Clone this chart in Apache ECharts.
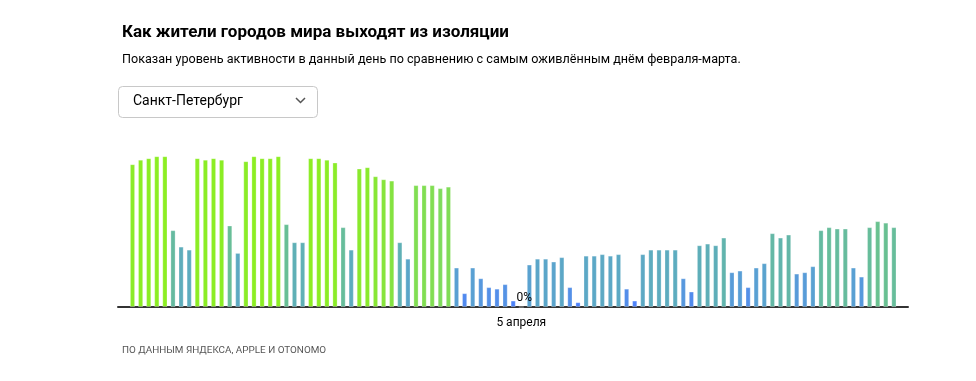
<!DOCTYPE html>
<html><head><meta charset="utf-8">
<script src="https://cdn.jsdelivr.net/npm/echarts@6/dist/echarts.min.js"></script>
<style>html,body{margin:0;padding:0;background:#fff}#c{width:976px;height:381px}</style>
</head><body><div id="c"></div>
<script>
// Активность (% от самого оживлённого дня февраля-марта), 17 февраля – 21 мая 2020
var startDate = [2020, 1, 17];
var monthNames = ['января','февраля','марта','апреля','мая','июня'];
var values = [
  94.7, 97.7, 98.7, 100, 100, 50.9, 40, 38,
  98.7, 97.7, 98.7, 97.7, 54, 35.8,
  96.7, 100, 98.7, 98.7, 100, 54.9, 42.9, 42.9,
  98.7, 98.7, 97.7, 95.8, 52.9, 38,
  91.8, 92.7, 86.7, 84.7, 83.8, 42.9, 32,
  80.8, 80.8, 80.8, 78.8, 79.8, 26.1, 9.1,
  26.1, 19, 13.1, 12.1, 15.1, 4.2, 0,
  28.1, 32, 32, 30.1, 33, 13.1, 3.1,
  34, 34, 35, 34, 35, 12.1, 4.2,
  35, 38, 38, 38, 38, 19, 10.2,
  40.9, 42, 40.9, 46, 23, 24.1, 13.1,
  26.1, 29, 48.9, 46, 48, 22.1, 23,
  27, 50.9, 52.9, 52, 52, 26.1, 20.1,
  52.9, 56.9, 55.9, 52.9
];
var highlightIndex = 48; // 5 апреля
var categories = [];
(function(){
  var d = new Date(startDate[0], startDate[1], startDate[2]);
  for (var i = 0; i < values.length; i++) {
    categories.push(d.getDate() + ' ' + monthNames[d.getMonth()]);
    d.setDate(d.getDate() + 1);
  }
})();
var titleText = 'Как жители городов мира выходят из изоляции';
var subtitleText = 'Показан уровень активности в данный день по сравнению с самым оживлённым днём февраля-марта.';
var cityText = 'Санкт-Петербург';
var sourceText = 'ПО ДАННЫМ ЯНДЕКСА, APPLE И OTONOMO';

var chart = echarts.init(document.getElementById('c'), null, {renderer:'canvas'});
var FONT = 'Roboto, "Noto Sans", sans-serif';
chart.setOption({
  animation: false,
  backgroundColor: '#fff',
  title: [
    {text: titleText, left: 117, top: 19, textStyle:{fontFamily:FONT, fontSize:17, fontWeight:'bold', color:'#000'}},
    {text: subtitleText, left: 117, top: 48, textStyle:{fontFamily:FONT, fontSize:12.6, fontWeight:'normal', color:'#000'}},
    {text: sourceText, left: 117, top: 341, textStyle:{fontFamily:FONT, fontSize:9.9, fontWeight:'normal', color:'#555'}}
  ],
  graphic: [
    {type:'rect', shape:{x:118.5, y:86.5, width:199, height:31, r:4}, style:{fill:'#fff', stroke:'#c8c8c8', lineWidth:1}},
    {type:'text', x:133, y:101, style:{text: cityText, font:'14px ' + FONT, fill:'#000', textVerticalAlign:'middle'}},
    {type:'polyline', shape:{points:[[296,98],[300.5,102.5],[305,98]]}, style:{stroke:'#555', lineWidth:1.5, fill:null}}
  ],
  visualMap: {
    show: false, type: 'continuous', min: 0, max: 100, seriesIndex: 0,
    inRange: {color: ['#4a7bff','#5592e6','#5aa3cf','#5fb0b6','#6ac28f','#74cf86','#88e636','#8cee22']}
  },
  grid: [
    {left: 128.45, width: 769.5, top: 156.3, height: 150.7},
    {left: 118, width: 790, top: 156.3, height: 150.7}
  ],
  xAxis: [
    {type:'category', data: categories, gridIndex:0,
     axisLine:{show:false}, axisTick:{show:false},
     axisLabel:{interval: function(i){return i === highlightIndex;}, color:'#000', fontSize:12, fontFamily:FONT, margin:10}},
    {type:'value', gridIndex:1, min:0, max:1, axisLine:{show:true, lineStyle:{color:'#333', width:2}},
     axisTick:{show:false}, axisLabel:{show:false}, splitLine:{show:false}}
  ],
  yAxis: [
    {type:'value', gridIndex:0, min:0, max:100, show:false},
    {type:'value', gridIndex:1, min:0, max:1, show:false}
  ],
  series: [{
    type:'bar', data: values, barWidth: 5, xAxisIndex:0, yAxisIndex:0,
    itemStyle:{borderColor:'rgba(255,255,255,0.35)', borderWidth:0.8},
    label:{show:true, position:'top', distance:3, offset:[3,0], color:'#000', fontSize:12, fontFamily:FONT,
      formatter:function(p){return p.dataIndex === highlightIndex ? p.value + '%' : '';}}
  }]
});
</script></body></html>
